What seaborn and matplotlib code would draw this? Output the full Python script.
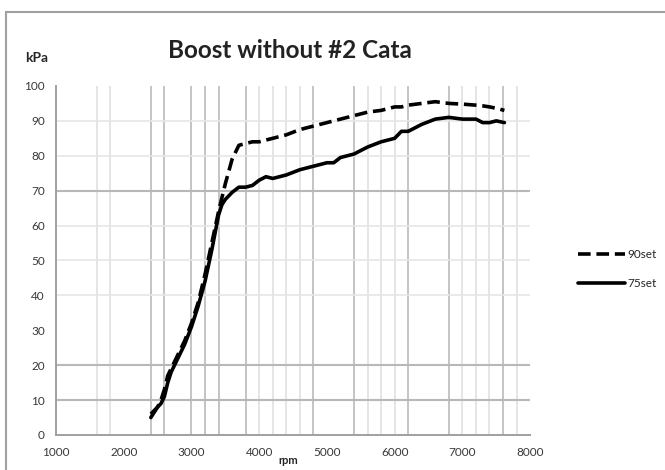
import matplotlib
matplotlib.use('Agg')
import matplotlib.pyplot as plt
import seaborn as sns
import pandas as pd
from matplotlib.patches import Rectangle

# rpm sample points shared by both runs
rpm = [2400, 2450, 2500, 2550, 2600, 2650, 2700, 2800, 2900, 3000, 3100, 3200,
       3300, 3400, 3450, 3500, 3600, 3700, 3800, 3900, 4000, 4100, 4200, 4400,
       4600, 4800, 5000, 5100, 5200, 5400, 5600, 5800, 6000, 6100, 6200, 6400,
       6600, 6800, 7000, 7200, 7300, 7400, 7500, 7620]

set90 = [6, 7, 8, 10, 13, 17, 19, 23, 27, 32, 38, 46,
         55, 64, 68, 72, 79, 83, 83.5, 84, 84, 84.5, 85, 86,
         87.5, 88.5, 89.5, 90, 90.5, 91.5, 92.5, 93, 94, 94, 94.5, 95,
         95.5, 95, 94.8, 94.5, 94.3, 94, 93.6, 93]

set75 = [5, 6.5, 8, 9, 11, 15, 18, 22, 26, 31, 37, 44,
         53, 63, 66, 67.5, 69.5, 71, 71, 71.5, 73, 74, 73.5, 74.5,
         76, 77, 78, 78, 79.5, 80.5, 82.5, 84, 85, 87, 87, 89,
         90.5, 91, 90.5, 90.5, 89.5, 89.5, 90, 89.5]

# vertical gridlines as they appear in the picture (dark / light)
vgrid_dark = [2400, 2600, 3000, 3200, 3400, 3800, 4800, 5400, 6200, 6800, 7600]
vgrid_light = [1600, 1800, 4000, 4200, 4400, 4600, 5600, 5800, 6000, 7000,
               7200, 7400, 7800]
hgrid_dark = [10, 20, 70]
hgrid_light = [40, 50, 60, 80, 90]

sns.set_style('white')
plt.rcParams['font.family'] = ['Lato', 'DejaVu Sans']

fig = plt.figure(figsize=(6.65, 4.70), dpi=100)
ax = fig.add_axes([0.0842, 0.0745, 0.713, 0.7426])

# outer chart frame
fig.patches.append(Rectangle((6 / 665, -0.02), 1.0, (470 - 12) / 470 + 0.02,
                             transform=fig.transFigure, fill=False,
                             edgecolor='#a0a0a0', linewidth=1.5))

for x in vgrid_dark:
    ax.axvline(x, color='#c4c4c4', lw=1.4, zorder=0)
for x in vgrid_light:
    ax.axvline(x, color='#e0e0e0', lw=1.2, zorder=0)
for y in hgrid_dark:
    ax.axhline(y, color='#b8b8b8', lw=1.5, zorder=0)
for y in hgrid_light:
    ax.axhline(y, color='#e6e6e6', lw=1.2, zorder=0)

df = pd.DataFrame({'rpm': rpm, '90set': set90, '75set': set75})
sns.lineplot(data=df, x='rpm', y='90set', ax=ax, color='black', lw=2.6,
             linestyle=(0, (3.5, 1.6)), label='90set')
sns.lineplot(data=df, x='rpm', y='75set', ax=ax, color='black', lw=2.6,
             label='75set')

ax.set_xlim(1000, 8000)
ax.set_ylim(0, 100)
ax.set_xticks(range(1000, 8001, 1000))
ax.set_yticks(range(0, 101, 10))
ax.tick_params(axis='both', labelsize=8.5, colors='#505050', length=4,
               width=1.2, direction='out')
ax.tick_params(axis='x', pad=5)
ax.tick_params(axis='y', pad=4)
ax.tick_params(axis='both', labelcolor='#383838')
for side in ['top', 'right']:
    ax.spines[side].set_visible(False)
for side in ['left', 'bottom']:
    ax.spines[side].set_color('#a0a0a0')
    ax.spines[side].set_linewidth(1.4)

ax.set_xlabel('')
ax.set_ylabel('')
fig.text(288 / 665, 1 - 461 / 470, 'rpm', fontsize=8, fontweight='bold',
         ha='center', va='center')
fig.text(25 / 665, 1 - 58 / 470, 'kPa', fontsize=10, fontweight='bold',
         ha='left', va='center')
fig.text(290 / 665, 1 - 50 / 470, 'Boost without #2 Cata', fontsize=17.5,
         fontweight='bold', ha='center', va='center', color='#222222')

ax.legend(loc='center left', bbox_to_anchor=(572 / 665, 1 - 269 / 470),
          bbox_transform=fig.transFigure, frameon=False, fontsize=8.5,
          handlelength=4.0, handletextpad=0.15, labelspacing=1.5,
          borderpad=0)

fig.savefig('out.png', dpi=100)
